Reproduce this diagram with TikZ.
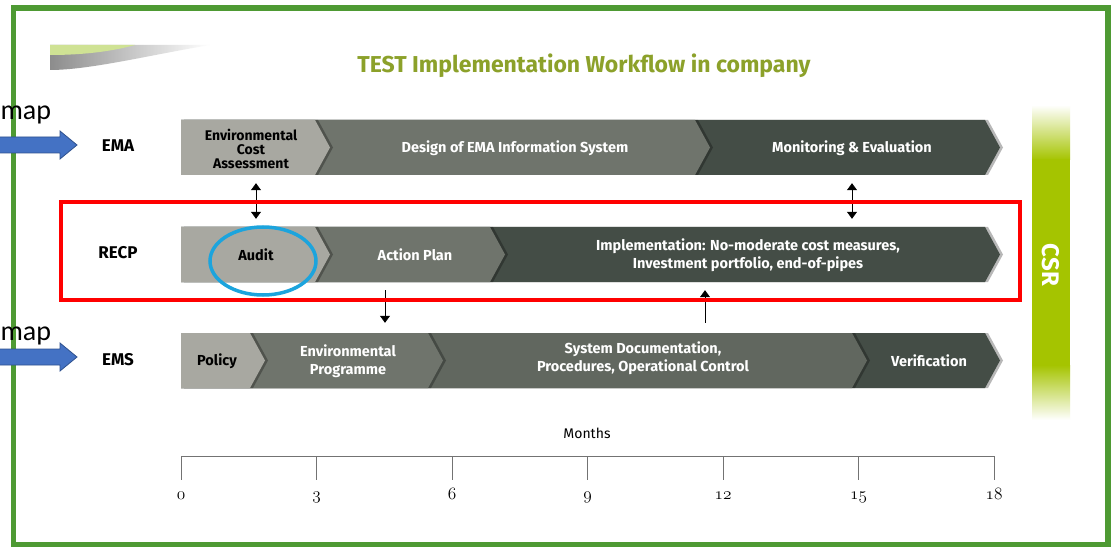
\documentclass[tikz,border=0pt]{standalone}
\usepackage{fontspec}
\setmainfont{Fira Sans}
\newfontfamily\mapfont{Carlito}
\newcommand{\osfnum}[1]{{\usefont{OML}{cmm}{m}{it}#1}}
\usetikzlibrary{arrows.meta}

\definecolor{framegreen}{HTML}{4E9A33}
\definecolor{titlegreen}{HTML}{8CA12A}
\definecolor{csrgreen}{HTML}{A5C400}
\definecolor{leafgreen}{HTML}{CFE294}
\definecolor{segA}{HTML}{A8A8A1}
\definecolor{segB}{HTML}{6F746C}
\definecolor{segC}{HTML}{61675F}
\definecolor{segD}{HTML}{444D46}
\definecolor{mapblue}{HTML}{4472C4}
\definecolor{mapedge}{HTML}{2F528F}
\definecolor{auditblue}{HTML}{1CA4DD}

% one chevron of a row: top y, end x, colour
\newcommand{\chevseg}[3]{%
  \fill[black,opacity=0.28] (184,#1) -- (#2+3,#1) -- ++(15,27.5) -- ++(-15,27.5) -| (184,#1) -- cycle;
  \fill[#3] (181,#1) -- (#2,#1) -- ++(15,27.5) -- ++(-15,27.5) -| (181,#1) -- cycle;}

\begin{document}
\begin{tikzpicture}[x=1pt, y=-1pt,
  rowlab/.style={font=\fontsize{17}{20}\selectfont\bfseries},
  segtxt/.style={font=\fontsize{14.5}{17.5}\selectfont\bfseries, align=center, inner sep=0pt},
  lighttxt/.style={segtxt, text=black},
  darktxt/.style={segtxt, text=white},
  bar/.style={minimum width=819pt, minimum height=55pt, inner sep=0pt},
  link/.style={line width=0.8pt},
  tip/.tip={Triangle[width=10pt,length=7pt]},
  maparrow/.style={fill=mapblue, draw=mapedge, line width=0.8pt},
  tick/.style={draw=black!55, line width=1pt}]
  \useasboundingbox (0,0) rectangle (1111,548);
  \fill[white] (0,0) rectangle (1111,548);

  % frame
  \draw[framegreen, line width=5.5pt] (13.5,8) rectangle (1108,544.5);

  % leaf at the top left
  \shade[left color=black!45, right color=white] (50,45) -- (210,45) .. controls (150,55) and (90,70) .. (50,70) -- cycle;
  \fill[leafgreen] (50,45) -- (135,45) .. controls (110,52) and (80,55) .. (50,55) -- cycle;

  \node[font=\fontsize{23}{26}\selectfont\bfseries, text=titlegreen] (title) at (584,66) {TEST Implementation Workflow in company};

  % CSR bar
  \shade[top color=white, bottom color=csrgreen] (1032,105) rectangle (1070,160);
  \fill[csrgreen] (1032,159.5) rectangle (1070,365.5);
  \shade[top color=csrgreen, bottom color=white] (1032,365) rectangle (1070,420);
  \node[rotate=-90, text=white, font=\fontsize{24}{26}\selectfont\bfseries] (csr) at (1051,265) {CSR};

  % rows
  \node[bar] (emaBar) at (590.5,147.5) {};
  \node[bar] (recpBar) at (590.5,254.5) {};
  \node[bar] (emsBar) at (590.5,360.5) {};

  \chevseg{120}{985}{segD}
  \chevseg{120}{695}{segB}
  \chevseg{120}{315}{segA}

  \chevseg{227}{985}{segD}
  \chevseg{227}{490}{segB}
  \chevseg{227}{315}{segA}

  \chevseg{333}{985}{segD}
  \chevseg{333}{852}{segC}
  \chevseg{333}{428}{segB}
  \chevseg{333}{250}{segA}

  \node[rowlab] (ema) at (118,146) {EMA};
  \node[rowlab] (recp) at (118,253) {RECP};
  \node[rowlab] (ems) at (118,360) {EMS};

  \node[lighttxt, font=\fontsize{14}{14}\selectfont\bfseries] (eca) at (251,149) {Environmental\\Cost\\Assessment};
  \node[darktxt] (design) at (515,148) {Design of EMA Information System};
  \node[darktxt] (monitor) at (852,148) {Monitoring \& Evaluation};
  \node[lighttxt] (audit) at (256,255) {Audit};
  \node[darktxt] (action) at (415,255) {Action Plan};
  \node[darktxt] (impl) at (748,255) {Implementation: No-moderate cost measures,\\Investment portfolio, end-of-pipes};
  \node[lighttxt] (policy) at (217,361) {Policy};
  \node[darktxt] (envprog) at (348,361) {Environmental\\Programme};
  \node[darktxt] (sysdoc) at (643,358) {System Documentation,\\Procedures, Operational Control};
  \node[darktxt] (verif) at (929,361) {Verification};

  % links between the rows
  \coordinate (emaLow) at ([yshift=-8pt]emaBar.south);
  \coordinate (recpHigh) at ([yshift=8pt]recpBar.north);
  \coordinate (recpLow) at ([yshift=-8pt]recpBar.south);
  \coordinate (emsHigh) at ([yshift=10pt]emsBar.north);
  \coordinate (dnx) at (385,0);
  \coordinate (upx) at (705,0);
  \draw[link, tip-tip] (emaLow -| audit) -- (recpHigh -| audit);
  \draw[link, tip-tip] (emaLow -| monitor) -- (recpHigh -| monitor);
  \draw[link, -tip] (recpLow -| dnx) -- (emsHigh -| dnx);
  \draw[link, -tip] (emsHigh -| upx) -- (recpLow -| upx);

  % marks on top
  \draw[red, line width=3.5pt] (61,202) rectangle (1020,300);
  \draw[auditblue, line width=3.5pt] ([xshift=7pt,yshift=-6pt]audit.center) ellipse [x radius=53pt, y radius=34pt];

  \node[anchor=base west, font=\mapfont\fontsize{28}{30}\selectfont] (map1) at (-3,120) {map};
  \node[anchor=base west, font=\mapfont\fontsize{28}{30}\selectfont] (map2) at (-3,340) {map};
  \filldraw[maparrow] (-5,137) -- (60,137) -- (60,131) -- (77,145) -- (60,159) -- (60,153) -- (-5,153) -- cycle;
  \filldraw[maparrow] (-5,349) -- (60,349) -- (60,343) -- (77,357) -- (60,371) -- (60,365) -- (-5,365) -- cycle;

  % time axis
  \node[font=\fontsize{14}{16}\selectfont] (months) at (587,433) {Months};
  \draw[tick] (181,456) -- (994,456);
  \foreach \m in {0,3,...,18} {
    \draw[tick] (181+\m*45.17,456) -- (181+\m*45.17,480);
    \node[font=\fontsize{17}{18}\selectfont, anchor=base] (m\m) at (181+\m*45.17,499) {\osfnum{\m}};
  }
\end{tikzpicture}
\end{document}
